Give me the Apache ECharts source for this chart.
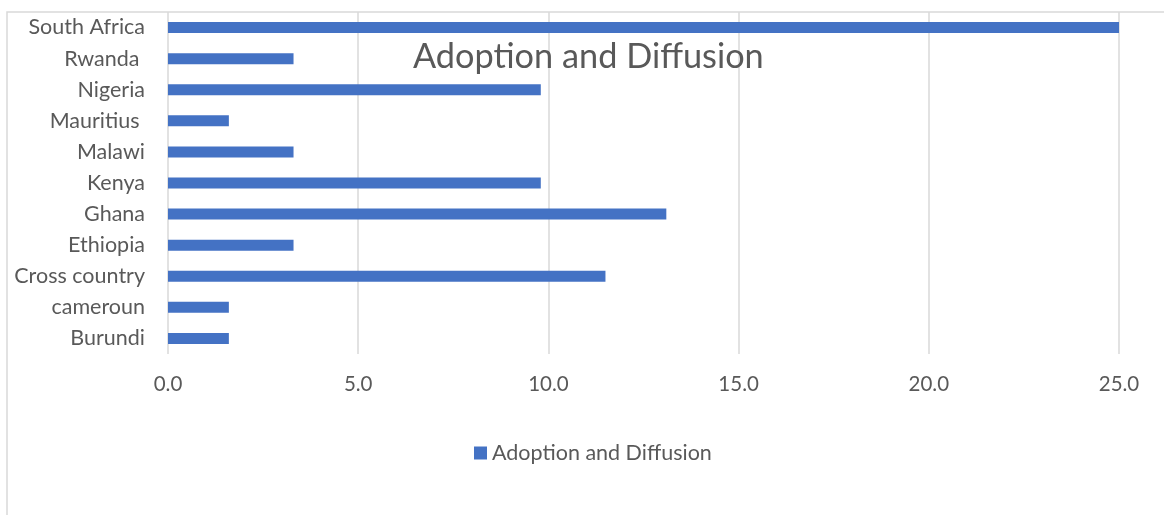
<!DOCTYPE html>
<html>
<head>
<meta charset="utf-8">
<script src="https://cdn.jsdelivr.net/npm/echarts@6/dist/echarts.min.js"></script>
<style>
  html, body { margin: 0; padding: 0; background: #ffffff; }
  #chart { width: 1164px; height: 515px; }
</style>
</head>
<body>
<div id="chart"></div>
<script>
// Categories listed bottom to top (ECharts category y-axis starts at the bottom)
const countries = ['Burundi', 'cameroun', 'Cross country', 'Ethiopia', 'Ghana', 'Kenya',
                   'Malawi', 'Mauritius ', 'Nigeria', 'Rwanda ', 'South Africa'];
const adoptionValues = [1.6, 1.6, 11.5, 3.3, 13.1, 9.8, 3.3, 1.6, 9.8, 3.3, 25.0];
const seriesName = 'Adoption and Diffusion';
const xTicks = [0, 5, 10, 15, 20, 25];

const FONT = 'Lato, "Noto Sans", sans-serif';
const TEXT = '#595959';
const GRID = '#D9D9D9';
const BAR = '#4472C4';

const chart = echarts.init(document.getElementById('chart'), null, { renderer: 'canvas' });

chart.setOption({
  backgroundColor: '#ffffff',
  animation: false,
  title: {
    text: seriesName,
    left: 408,
    top: 35,
    textStyle: { fontFamily: FONT, fontSize: 34.3, fontWeight: 'normal', color: TEXT }
  },
  legend: {
    data: [seriesName],
    left: 469,
    top: 437,
    icon: 'rect',
    itemWidth: 13,
    itemHeight: 13,
    textStyle: { fontFamily: FONT, fontSize: 21.5, color: TEXT }
  },
  grid: { left: 168, right: 45, top: 12, bottom: 161, containLabel: false },
  xAxis: {
    type: 'value',
    min: xTicks[0],
    max: xTicks[xTicks.length - 1],
    interval: xTicks[1] - xTicks[0],
    axisLine: { show: false },
    axisTick: { show: false },
    axisLabel: {
      margin: 20,
      fontFamily: FONT, fontSize: 20.5, color: TEXT,
      formatter: v => v.toFixed(1)
    },
    splitLine: { lineStyle: { color: GRID, width: 1.5 } }
  },
  yAxis: {
    type: 'category',
    data: countries,
    axisLine: { show: false },
    axisTick: { show: false },
    axisLabel: { margin: 23, fontFamily: FONT, fontSize: 21.5, color: TEXT }
  },
  series: [{
    name: seriesName,
    type: 'bar',
    data: adoptionValues,
    barWidth: 11,
    itemStyle: { color: BAR }
  }],
  graphic: [{
    type: 'rect',
    silent: true,
    shape: { x: 7, y: 12, width: 2000, height: 1000 },
    style: { fill: null, stroke: GRID, lineWidth: 1.5 },
    z: -1
  }]
});
</script>
</body>
</html>
